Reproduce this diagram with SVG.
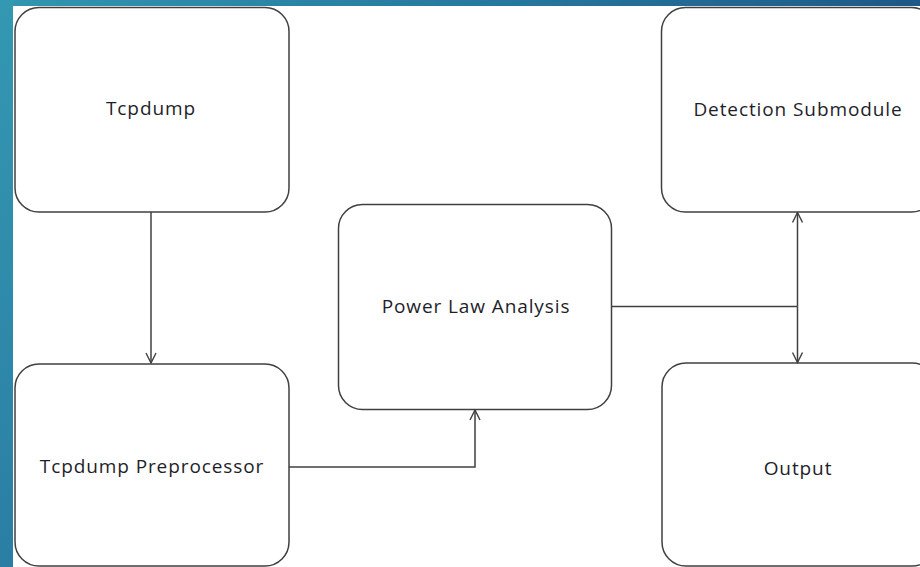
<svg xmlns="http://www.w3.org/2000/svg" width="920" height="567" viewBox="0 0 920 567">
  <defs>
    <linearGradient id="bg" x1="0" y1="0" x2="1" y2="0.3">
      <stop offset="0" stop-color="#3196b0"/>
      <stop offset="0.5" stop-color="#26789e"/>
      <stop offset="1" stop-color="#1c5283"/>
    </linearGradient>
    <linearGradient id="bgl" x1="0" y1="0" x2="0" y2="1">
      <stop offset="0" stop-color="#3398b2"/>
      <stop offset="1" stop-color="#2a7ea3"/>
    </linearGradient>
    <marker id="arr" viewBox="0 0 12 12" refX="11" refY="6" markerWidth="12" markerHeight="12" markerUnits="userSpaceOnUse" orient="auto">
      <path d="M1,1 L11,6 L1,11" fill="none" stroke="#404040" stroke-width="1.4"/>
    </marker>
  </defs>
  <style>
    .box { fill: #ffffff; stroke: #404040; stroke-width: 1.5; }
    .lbl { font-family: "Open Sans", "Liberation Sans", sans-serif; font-size: 19px; letter-spacing: 0.9px; fill: #1e1e2a; text-anchor: middle; }
    .con { fill: none; stroke: #404040; stroke-width: 1.5; }
  </style>
  <rect x="0" y="0" width="920" height="567" fill="url(#bg)"/>
  <rect x="0" y="0" width="13" height="567" fill="url(#bgl)"/>
  <rect x="13" y="6" width="907" height="561" fill="#ffffff"/>

  <g id="tcpdump">
    <rect class="box" x="15" y="7.5" width="274" height="204.5" rx="24" ry="24"/>
    <text class="lbl" x="151" y="115">Tcpdump</text>
  </g>
  <g id="preprocessor">
    <rect class="box" x="15" y="364" width="274" height="202" rx="24" ry="24"/>
    <text class="lbl" x="152" y="473">Tcpdump Preprocessor</text>
  </g>
  <g id="powerlaw">
    <rect class="box" x="338.5" y="204.5" width="273" height="205" rx="24" ry="24"/>
    <text class="lbl" x="476" y="313">Power Law Analysis</text>
  </g>
  <g id="detection">
    <rect class="box" x="661.5" y="7.5" width="274" height="204.5" rx="24" ry="24"/>
    <text class="lbl" x="798" y="116">Detection Submodule</text>
  </g>
  <g id="output">
    <rect class="box" x="662" y="363" width="274" height="203" rx="24" ry="24"/>
    <text class="lbl" x="798" y="475">Output</text>
  </g>

  <g id="connectors">
    <path class="con" d="M151,212 L151,363" marker-end="url(#arr)"/>
    <path class="con" d="M289,467 L475,467 L475,410" marker-end="url(#arr)"/>
    <path class="con" d="M611.5,306.5 L797.5,306.5"/>
    <path class="con" d="M797.5,306.5 L797.5,212.5" marker-end="url(#arr)"/>
    <path class="con" d="M797.5,306.5 L797.5,362.5" marker-end="url(#arr)"/>
  </g>
</svg>
